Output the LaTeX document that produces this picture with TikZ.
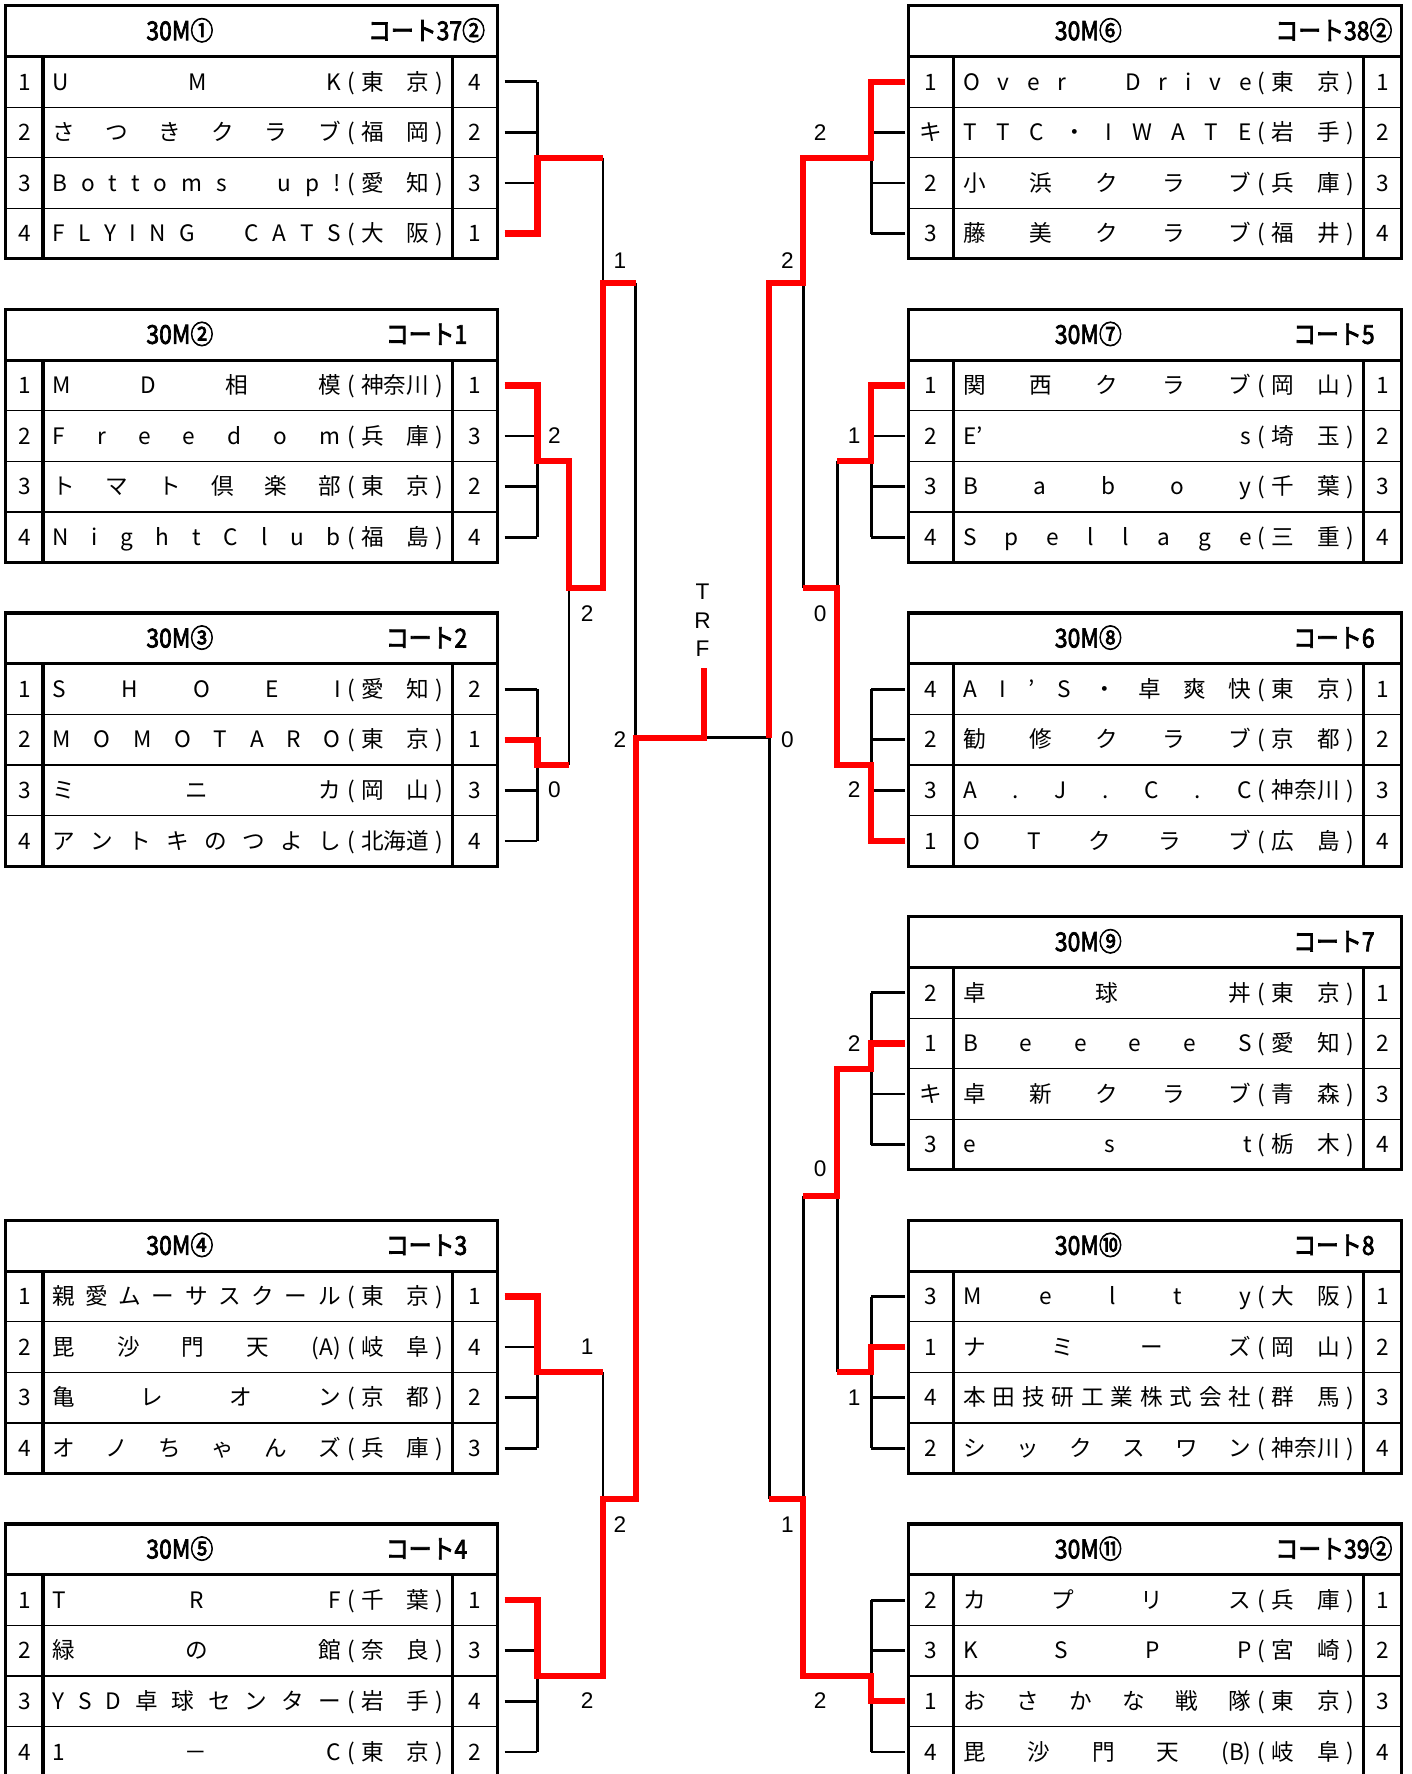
\documentclass[tikz,border=0pt]{standalone}
\usepackage{fontspec}
\setmainfont{Noto Sans CJK JP}
\newfontfamily\hdrfont[FakeBold=3]{Noto Sans CJK JP}
\newfontfamily\lblfont{Liberation Sans}
\makeatletter
\def\distend{\distend}
\def\dist#1{\dist@a#1\distend}
\def\dist@a#1{#1\futurelet\dist@next\dist@b}
\def\dist@b{\ifx\dist@next\distend\expandafter\@gobble\else\hfill\expandafter\dist@a\fi}
\makeatother
\newcommand\pref[1]{\makebox[0.9em]{(}\makebox[3em][s]{\dist{#1}}\makebox[0.9em]{)}}
\tikzset{
 txt/.style={inner sep=0pt, font=\fontsize{20}{24}\selectfont, text height=14.5pt, text depth=0pt},
 hdr/.style={inner sep=0pt, font=\hdrfont\fontsize{23}{26}\selectfont, text height=16pt, text depth=0pt},
 lbl/.style={inner sep=0pt, font=\lblfont\fontsize{20}{24}\selectfont, text height=14.5pt, text depth=0pt},
 blk/.style={line width=2.4pt, black},
 win/.style={line width=5.5pt, red, line join=miter},
 frame/.style={line width=2.8pt, black},
 sep/.style={line width=1.1pt, black}
}
% table frame: x0 xa xb x1 T
\newcommand\tframe[5]{%
 \draw[sep] ({#1},{#5+89.7}) -- ({#4},{#5+89.7}) ({#1},{#5+134.4}) -- ({#4},{#5+134.4}) ({#1},{#5+179.1}) -- ({#4},{#5+179.1});
 \draw[frame] ({#1},{#5}) rectangle ({#4},{#5+223.8});
 \draw[frame] ({#1},{#5+45}) -- ({#4},{#5+45});
 \draw[frame] ({#2},{#5+45}) -- ({#2},{#5+223.8}) ({#3},{#5+45}) -- ({#3},{#5+223.8});
}
\newcommand\headL[4]{\node[hdr] (#1a) at (159,#2) {\scalebox{0.88}[1]{#3}}; \node[hdr] (#1b) at (377,#2) {\scalebox{0.88}[1]{#4}};}
\newcommand\headR[4]{\node[hdr] (#1a) at (962,#2) {\scalebox{0.88}[1]{#3}}; \node[hdr] (#1b) at (1179,#2) {\scalebox{0.88}[1]{#4}};}
\newcommand\entL[5]{\node[txt] at (21.5,#1) {#2}; \node[txt,anchor=west] at (46,#1) {\makebox[255pt][s]{\dist{#3}}\pref{#4}}; \node[txt] at (420,#1) {#5};}
\newcommand\entR[5]{\node[txt] at (823,#1) {#2}; \node[txt,anchor=west] at (851,#1) {\makebox[255pt][s]{\dist{#3}}\pref{#4}}; \node[txt] at (1222,#1) {#5};}
\newcommand\ticksL[4]{\draw[blk] (446,#1) -- (475,#1) (446,#2) -- (475,#2) (446,#3) -- (475,#3) (446,#4) -- (475,#4) (475,#1) -- (475,#4);}
\newcommand\ticksR[4]{\draw[blk] (800,#1) -- (770,#1) (800,#2) -- (770,#2) (800,#3) -- (770,#3) (800,#4) -- (770,#4) (770,#1) -- (770,#4);}
\begin{document}
\begin{tikzpicture}[x=1pt,y=-1pt]
\useasboundingbox[fill=white] (0,0) rectangle (1248,1568);
% ---------------- left tables
\tframe{5}{38}{400}{440}{5}
\tframe{5}{38}{400}{440}{273.4}
\tframe{5}{38}{400}{440}{541.8}
\tframe{5}{38}{400}{440}{1078.6}
\tframe{5}{38}{400}{440}{1347}
\headL{h1}{27.5}{30M①}{コート37②}
\headL{h2}{295.9}{30M②}{コート1}
\headL{h3}{564.3}{30M③}{コート2}
\headL{h4}{1101.1}{30M④}{コート3}
\headL{h5}{1369.5}{30M⑤}{コート4}
\entL{72.35}{1}{UMK}{東京}{4}
\entL{117.05}{2}{さつきクラブ}{福岡}{2}
\entL{161.75}{3}{Bottoms　up!}{愛知}{3}
\entL{206.45}{4}{FLYING　CATS}{大阪}{1}
\entL{340.75}{1}{MD相模}{神奈川}{1}
\entL{385.45}{2}{Freedom}{兵庫}{3}
\entL{430.15}{3}{トマト倶楽部}{東京}{2}
\entL{474.85}{4}{NightClub}{福島}{4}
\entL{609.15}{1}{SHOEI}{愛知}{2}
\entL{653.85}{2}{MOMOTARO}{東京}{1}
\entL{698.55}{3}{ミニカ}{岡山}{3}
\entL{743.25}{4}{アントキのつよし}{北海道}{4}
\entL{1145.95}{1}{親愛ムーサスクール}{東京}{1}
\entL{1190.65}{2}{毘沙門天{(A)}}{岐阜}{4}
\entL{1235.35}{3}{亀レオン}{京都}{2}
\entL{1280.05}{4}{オノちゃんズ}{兵庫}{3}
\entL{1414.35}{1}{TRF}{千葉}{1}
\entL{1459.05}{2}{緑の館}{奈良}{3}
\entL{1503.75}{3}{YSD卓球センター}{岩手}{4}
\entL{1548.45}{4}{1－C}{東京}{2}
% ---------------- right tables
\tframe{803}{843}{1205}{1239}{5}
\tframe{803}{843}{1205}{1239}{273.4}
\tframe{803}{843}{1205}{1239}{541.8}
\tframe{803}{843}{1205}{1239}{810.2}
\tframe{803}{843}{1205}{1239}{1078.6}
\tframe{803}{843}{1205}{1239}{1347}
\headR{h6}{27.5}{30M⑥}{コート38②}
\headR{h7}{295.9}{30M⑦}{コート5}
\headR{h8}{564.3}{30M⑧}{コート6}
\headR{h9}{832.7}{30M⑨}{コート7}
\headR{h10}{1101.1}{30M⑩}{コート8}
\headR{h11}{1369.5}{30M⑪}{コート39②}
\entR{72.35}{1}{Over　Drive}{東京}{1}
\entR{117.05}{キ}{TTC・IWATE}{岩手}{2}
\entR{161.75}{2}{小浜クラブ}{兵庫}{3}
\entR{206.45}{3}{藤美クラブ}{福井}{4}
\entR{340.75}{1}{関西クラブ}{岡山}{1}
\entR{385.45}{2}{{E’}s}{埼玉}{2}
\entR{430.15}{3}{Baboy}{千葉}{3}
\entR{474.85}{4}{Spellage}{三重}{4}
\entR{609.15}{4}{AI’S・卓爽快}{東京}{1}
\entR{653.85}{2}{勧修クラブ}{京都}{2}
\entR{698.55}{3}{A.J.C.C}{神奈川}{3}
\entR{743.25}{1}{OTクラブ}{広島}{4}
\entR{877.55}{2}{卓球丼}{東京}{1}
\entR{922.25}{1}{BeeeeS}{愛知}{2}
\entR{966.95}{キ}{卓新クラブ}{青森}{3}
\entR{1011.65}{3}{est}{栃木}{4}
\entR{1145.95}{3}{Melty}{大阪}{1}
\entR{1190.65}{1}{ナミーズ}{岡山}{2}
\entR{1235.35}{4}{本田技研工業株式会社}{群馬}{3}
\entR{1280.05}{2}{シックスワン}{神奈川}{4}
\entR{1414.35}{2}{カプリス}{兵庫}{1}
\entR{1459.05}{3}{KSPP}{宮崎}{2}
\entR{1503.75}{1}{おさかな戦隊}{東京}{3}
\entR{1548.45}{4}{毘沙門天{(B)}}{岐阜}{4}
% ---------------- bracket (black)
\ticksL{72.35}{117.05}{161.75}{206.45}
\ticksL{340.75}{385.45}{430.15}{474.85}
\ticksL{609.15}{653.85}{698.55}{743.25}
\ticksL{1145.95}{1190.65}{1235.35}{1280.05}
\ticksL{1414.35}{1459.05}{1503.75}{1548.45}
\ticksR{72.35}{117.05}{161.75}{206.45}
\ticksR{340.75}{385.45}{430.15}{474.85}
\ticksR{609.15}{653.85}{698.55}{743.25}
\ticksR{877.55}{922.25}{966.95}{1011.65}
\ticksR{1145.95}{1190.65}{1235.35}{1280.05}
\ticksR{1414.35}{1459.05}{1503.75}{1548.45}
\draw[blk] (503,407.8) -- (503,676.2);
\draw[blk] (533,139.4) -- (533,520);
\draw[blk] (562,250) -- (562,1325);
\draw[blk] (533,1213) -- (533,1481.4);
\draw[blk] (622,652) -- (680,652);
\draw[blk] (740,407.8) -- (740,676.2);
\draw[blk] (710,139.4) -- (710,520);
\draw[blk] (680,250) -- (680,1325);
\draw[blk] (740,944.6) -- (740,1213);
\draw[blk] (710,1057) -- (710,1481.4);
% ---------------- winners (red)
\draw[win] (446,206.45) -- (475,206.45) -- (475,139.4) -- (533,139.4);
\draw[win] (446,340.75) -- (475,340.75) -- (475,407.8) -- (503,407.8) -- (503,520) -- (533,520) -- (533,250) -- (562,250);
\draw[win] (446,653.85) -- (475,653.85) -- (475,676.2) -- (503,676.2);
\draw[win] (446,1145.95) -- (475,1145.95) -- (475,1213) -- (533,1213);
\draw[win] (446,1414.35) -- (475,1414.35) -- (475,1481.4) -- (533,1481.4) -- (533,1325) -- (562,1325) -- (562,652) -- (622,652) -- (622,590);
\draw[win] (800,72.35) -- (770,72.35) -- (770,139.4) -- (710,139.4) -- (710,250) -- (680,250) -- (680,652);
\draw[win] (800,340.75) -- (770,340.75) -- (770,407.8) -- (740,407.8);
\draw[win] (800,743.25) -- (770,743.25) -- (770,676.2) -- (740,676.2) -- (740,520) -- (710,520);
\draw[win] (800,922.25) -- (770,922.25) -- (770,944.6) -- (740,944.6) -- (740,1057) -- (710,1057);
\draw[win] (800,1190.65) -- (770,1190.65) -- (770,1213) -- (740,1213);
\draw[win] (800,1503.75) -- (770,1503.75) -- (770,1481.4) -- (710,1481.4) -- (710,1325) -- (680,1325);
% ---------------- score labels
\node[lbl] (s1) at (548,230) {1};
\node[lbl] (s2) at (490,385) {2};
\node[lbl] (s3) at (519,542) {2};
\node[lbl] (s4) at (490,698) {0};
\node[lbl] (s5) at (548,653) {2};
\node[lbl] (s6) at (519,1190) {1};
\node[lbl] (s7) at (548,1347) {2};
\node[lbl] (s8) at (519,1503) {2};
\node[lbl] (s9) at (725,117) {2};
\node[lbl] (s10) at (696,230) {2};
\node[lbl] (s11) at (755,385) {1};
\node[lbl] (s12) at (725,542) {0};
\node[lbl] (s13) at (696,653) {0};
\node[lbl] (s14) at (755,698) {2};
\node[lbl] (s15) at (755,922) {2};
\node[lbl] (s16) at (725,1033) {0};
\node[lbl] (s17) at (755,1235) {1};
\node[lbl] (s18) at (696,1347) {1};
\node[lbl] (s19) at (725,1503) {2};
\node[lbl] (wT) at (621,523) {T};
\node[lbl] (wR) at (621,548) {R};
\node[lbl] (wF) at (621,573) {F};
\end{tikzpicture}
\end{document}
